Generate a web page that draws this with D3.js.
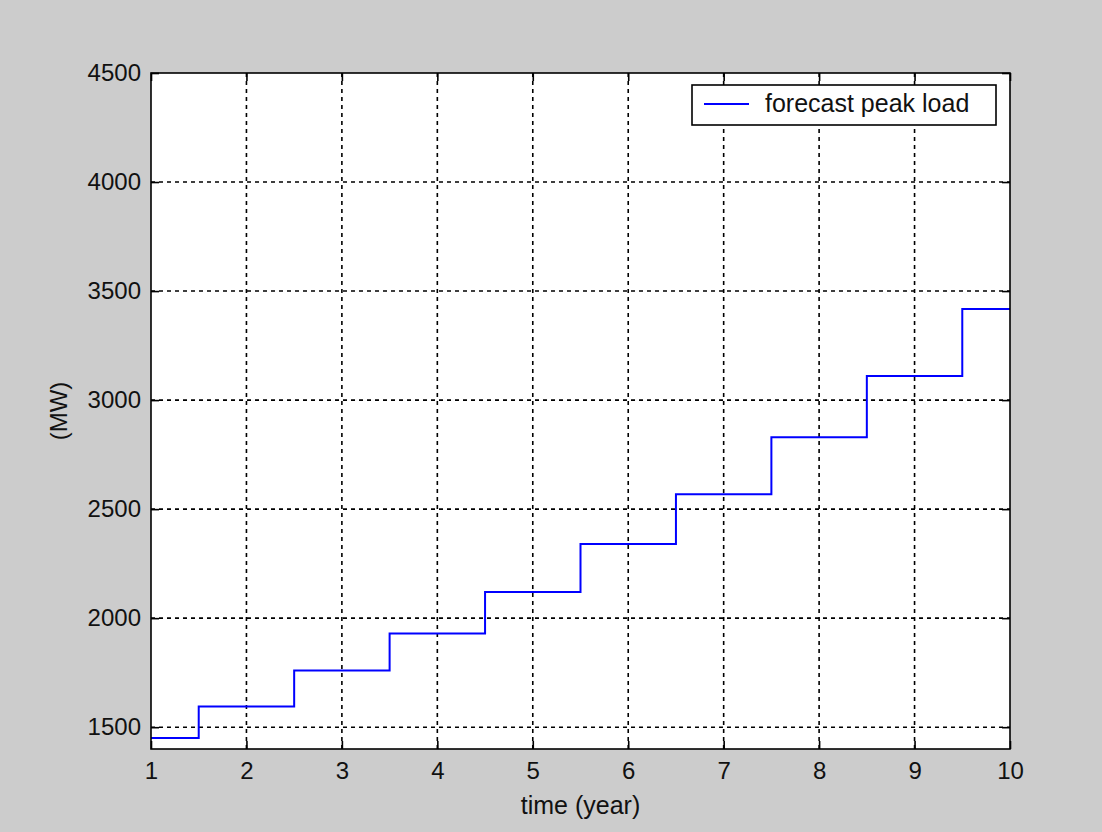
<!DOCTYPE html>
<html>
<head>
<meta charset="utf-8">
<script src="https://cdn.jsdelivr.net/npm/d3@7"></script>
<style>
  body { margin: 0; background: #cccccc; }
  svg { display: block; }
  text { font-family: "Liberation Sans", Arial, sans-serif; fill: #111; }
</style>
</head>
<body>
<div id="chart"></div>
<script>
// step start times (years) and forecast peak load (MW) for each step
const stepTimes = [1, 1.5, 2.5, 3.5, 4.5, 5.5, 6.5, 7.5, 8.5, 9.5];
const peakLoad = [1450, 1595, 1760, 1930, 2120, 2340, 2568, 2830, 3110, 3418];
const xTicks = [1, 2, 3, 4, 5, 6, 7, 8, 9, 10];
const yTicks = [1500, 2000, 2500, 3000, 3500, 4000, 4500];

const width = 1102,
  height = 832;
const margin = { top: 73, right: 92, bottom: 83, left: 151 };

const svg = d3.select("#chart")
  .append("svg")
  .attr("width", width)
  .attr("height", height);

svg.append("rect")
  .attr("width", width)
  .attr("height", height)
  .attr("fill", "#cccccc");

const x = d3.scaleLinear()
  .domain([1, 10])
  .range([margin.left, width - margin.right]);

const y = d3.scaleLinear()
  .domain([1400, 4500])
  .range([height - margin.bottom, margin.top]);

// white plot area
svg.append("rect")
  .attr("x", x(1))
  .attr("y", y(4500))
  .attr("width", x(10) - x(1))
  .attr("height", y(1400) - y(4500))
  .attr("fill", "white");

// dashed grid
const grid = svg.append("g")
  .attr("stroke", "#000")
  .attr("stroke-width", 1.6)
  .attr("stroke-dasharray", "4,4");

grid.selectAll("line.gx")
  .data(xTicks.slice(1, -1))
  .join("line")
  .attr("x1", d => x(d)).attr("x2", d => x(d))
  .attr("y1", y(1400)).attr("y2", y(4500));

grid.selectAll("line.gy")
  .data(yTicks.slice(0, -1))
  .join("line")
  .attr("class", "gy")
  .attr("x1", x(1)).attr("x2", x(10))
  .attr("y1", d => y(d)).attr("y2", d => y(d));

// step line
const pts = stepTimes.map((t, i) => [t, peakLoad[i]]);
pts.push([10, peakLoad[peakLoad.length - 1]]);

const line = d3.line()
  .x(d => x(d[0]))
  .y(d => y(d[1]))
  .curve(d3.curveStepAfter);

svg.append("path")
  .datum(pts)
  .attr("d", line)
  .attr("fill", "none")
  .attr("stroke", "#0000ff")
  .attr("stroke-width", 2);

// axes with inward ticks (box style)
const tickLen = 8;
svg.append("g")
  .attr("transform", `translate(0,${y(1400)})`)
  .call(d3.axisBottom(x).tickValues(xTicks).tickFormat(d3.format("d")).tickSizeInner(-tickLen).tickSizeOuter(0).tickPadding(13))
  .call(g => g.selectAll("text").style("font-size", "24px"));

svg.append("g")
  .attr("transform", `translate(0,${y(4500)})`)
  .call(d3.axisTop(x).tickValues(xTicks).tickFormat("").tickSizeInner(-tickLen).tickSizeOuter(0));

svg.append("g")
  .attr("transform", `translate(${x(1)},0)`)
  .call(d3.axisLeft(y).tickValues(yTicks).tickFormat(d3.format("d")).tickSizeInner(-tickLen).tickSizeOuter(0).tickPadding(10))
  .call(g => g.selectAll("text").style("font-size", "24px"));

svg.append("g")
  .attr("transform", `translate(${x(10)},0)`)
  .call(d3.axisRight(y).tickValues(yTicks).tickFormat("").tickSizeInner(-tickLen).tickSizeOuter(0));

svg.selectAll(".domain").remove();
svg.selectAll(".tick line").attr("stroke", "#000").attr("stroke-width", 1.6);

// frame
svg.append("rect")
  .attr("x", x(1))
  .attr("y", y(4500))
  .attr("width", x(10) - x(1))
  .attr("height", y(1400) - y(4500))
  .attr("fill", "none")
  .attr("stroke", "#000")
  .attr("stroke-width", 1.6);

// axis labels
svg.append("text")
  .attr("x", (x(1) + x(10)) / 2)
  .attr("y", 814)
  .attr("text-anchor", "middle")
  .style("font-size", "25px")
  .text("time (year)");

svg.append("text")
  .attr("transform", `translate(67,${(y(1400) + y(4500)) / 2}) rotate(-90)`)
  .attr("text-anchor", "middle")
  .style("font-size", "24px")
  .text("(MW)");

// legend
const legend = svg.append("g");
legend.append("rect")
  .attr("x", 692).attr("y", 85)
  .attr("width", 304).attr("height", 40)
  .attr("fill", "white")
  .attr("stroke", "#000")
  .attr("stroke-width", 1.6);
legend.append("line")
  .attr("x1", 704).attr("x2", 749)
  .attr("y1", 104).attr("y2", 104)
  .attr("stroke", "#0000ff")
  .attr("stroke-width", 2);
legend.append("text")
  .attr("x", 765).attr("y", 112)
  .style("font-size", "25px")
  .text("forecast peak load");
</script>
</body>
</html>
